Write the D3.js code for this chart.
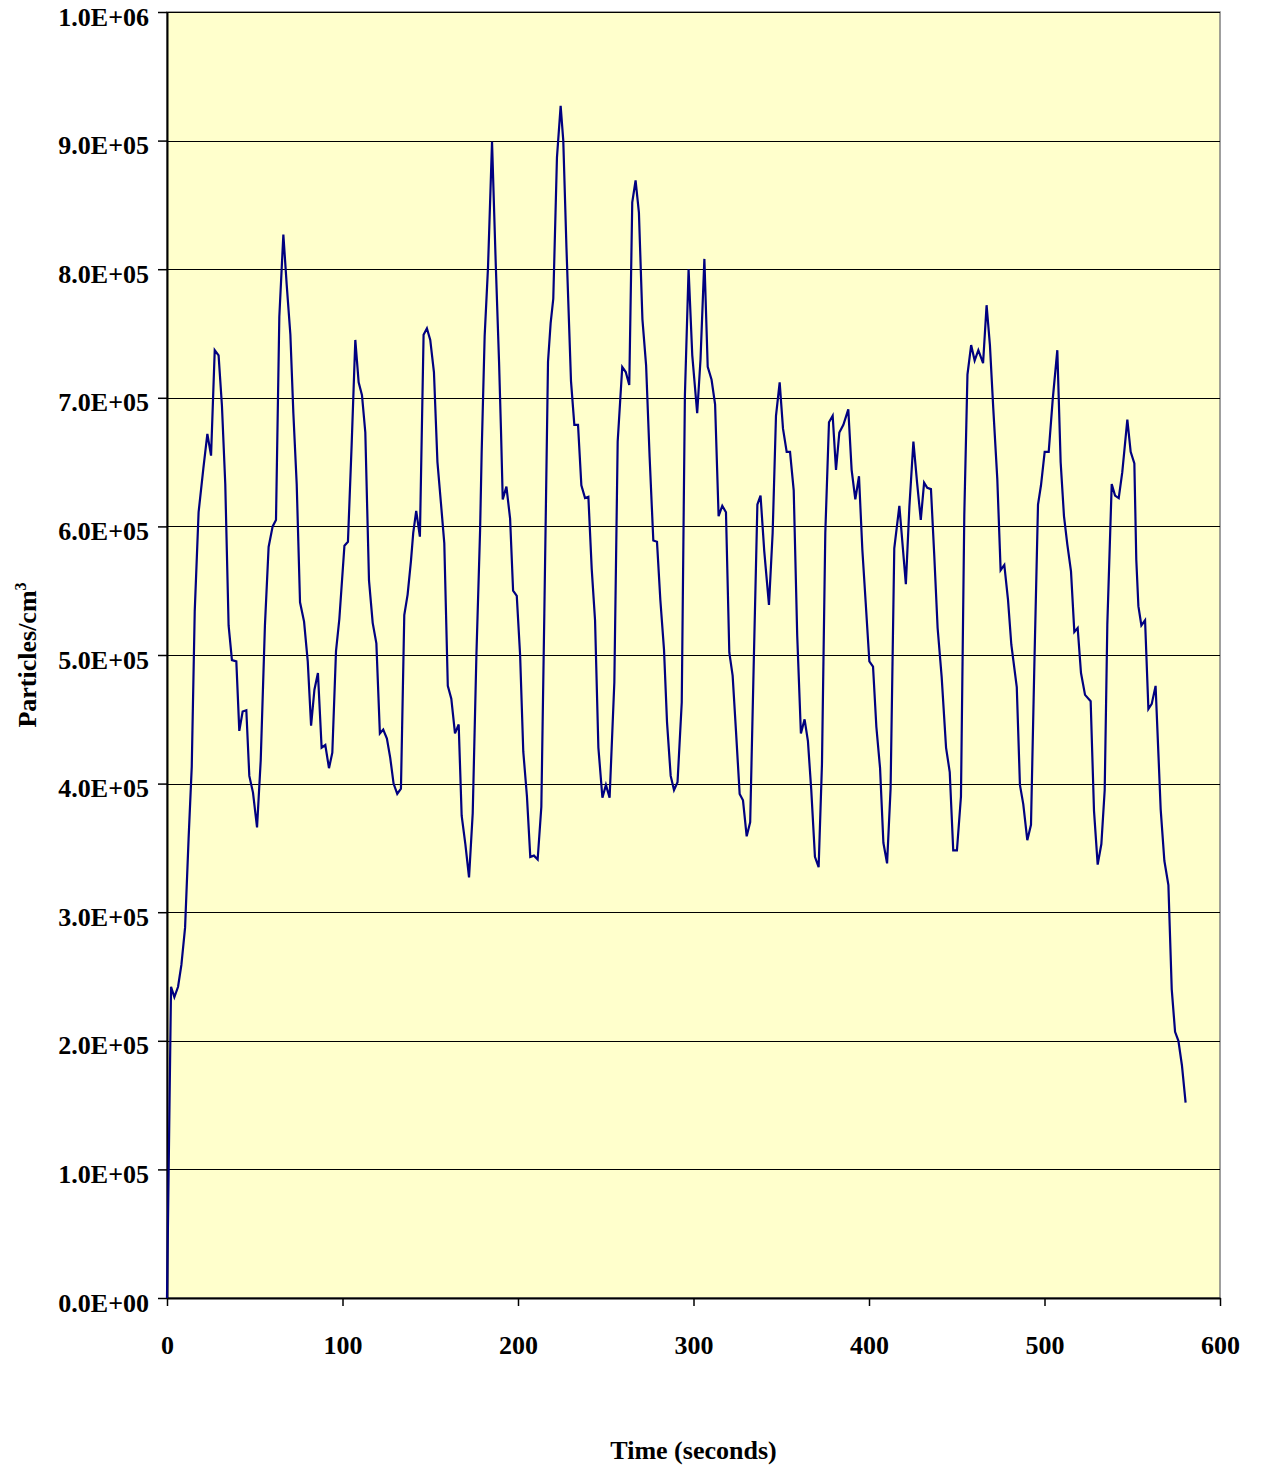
<!DOCTYPE html>
<html>
<head>
<meta charset="utf-8">
<script src="https://cdn.jsdelivr.net/npm/d3@7"></script>
<style>
    body { margin: 0; background: #ffffff; }
    text { font-family: "Liberation Serif", "Times New Roman", serif; font-weight: bold; fill: #000; }
</style>
</head>
<body>
<script>
// time in seconds
var timeSec = [0, 2.3, 4.2, 6.3, 8.2, 10.3, 12.3, 14.1, 15.8, 18.0, 20.7, 23.0, 25.1, 27.2, 29.4, 31.3, 33.2, 35.1, 37.0, 39.5,
    41.2, 43.1, 45.2, 46.9, 49.0, 51.3, 53.4, 55.8, 57.9, 60.2, 62.1, 64.0, 66.3, 68.2, 70.3, 72.0, 73.9, 75.8, 78.1, 80.2,
    82.1, 84.0, 86.0, 88.1, 90.2, 92.3, 94.2, 96.3, 98.2, 101.1, 103.1, 105.2, 107.3, 109.2, 111.1, 113.0, 115.1, 117.2, 119.3, 121.3,
    123.2, 125.3, 127.2, 129.1, 131.2, 133.3, 135.2, 137.1, 139.0, 140.3, 142.0, 144.1, 146.2, 148.1, 150.0, 152.1, 154.1, 156.1, 158.0, 160.0,
    162.0, 164.1, 166.2, 167.9, 170.0, 172.1, 174.2, 176.3, 178.4, 179.3, 181.0, 182.9, 185.2, 187.3, 189.2, 190.3, 191.3, 193.4, 195.5, 197.2,
    199.3, 201.2, 203.0, 205.1, 207.0, 209.1, 211.2, 213.3, 215.0, 217.1, 218.6, 220.1, 222.2, 224.3, 225.8, 227.6, 230.2, 232.1, 234.2, 236.1,
    238.2, 240.1, 242.0, 243.9, 245.8, 248.1, 250.1, 252.2, 254.9, 256.8, 259.4, 261.4, 263.4, 265.1, 267.0, 268.9, 270.9, 273.0, 275.0, 277.1,
    279.2, 281.1, 283.2, 284.9, 287.0, 288.9, 290.9, 293.3, 295.1, 297.2, 299.3, 302.1, 304.0, 306.2, 308.1, 310.3, 312.3, 314.3, 316.4, 318.5,
    320.4, 322.3, 324.2, 326.3, 328.2, 330.3, 332.3, 334.3, 336.4, 338.2, 340.3, 343.0, 345.1, 347.0, 349.1, 351.0, 353.1, 355.0, 357.1, 359.1,
    361.2, 363.3, 365.2, 367.1, 369.2, 371.3, 373.2, 375.1, 377.2, 379.3, 381.2, 383.1, 385.4, 388.2, 390.1, 392.2, 394.3, 396.2, 398.1, 400.2,
    402.3, 404.2, 406.3, 408.2, 410.3, 412.3, 414.4, 417.3, 421.0, 423.0, 425.3, 427.4, 429.5, 431.4, 433.2, 435.3, 437.2, 439.1, 441.4, 443.9,
    446.0, 448.0, 450.1, 452.4, 454.3, 456.1, 458.2, 460.2, 462.3, 465.0, 467.0, 468.9, 470.8, 473.1, 475.0, 477.1, 479.2, 481.1, 484.2, 486.0,
    487.9, 490.2, 492.3, 494.2, 496.3, 498.0, 500.1, 502.4, 504.7, 507.3, 509.2, 511.1, 513.0, 515.1, 517.0, 518.9, 520.8, 523.1, 526.3, 528.2,
    530.3, 532.4, 534.3, 535.8, 538.3, 540.2, 542.3, 544.3, 545.5, 547.2, 549.1, 551.2, 552.3, 553.5, 555.2, 557.3, 559.2, 561.1, 563.3, 565.0,
    566.2, 568.3, 570.6, 572.5, 574.4, 576.3, 578.3, 580.4];

// particles/cm3, in units of 1E+05
var particles = [0, 2.42, 2.34, 2.42, 2.59, 2.88, 3.57, 4.13, 5.34, 6.11, 6.45, 6.72, 6.55, 7.37, 7.33, 6.94, 6.33, 5.23, 4.96, 4.95,
    4.41, 4.56, 4.57, 4.06, 3.93, 3.66, 4.18, 5.23, 5.84, 6.00, 6.05, 7.63, 8.27, 7.88, 7.49, 6.88, 6.33, 5.41, 5.26, 4.95,
    4.45, 4.73, 4.86, 4.28, 4.30, 4.12, 4.24, 5.03, 5.28, 5.85, 5.88, 6.63, 7.45, 7.12, 7.02, 6.73, 5.58, 5.25, 5.09, 4.39,
    4.42, 4.35, 4.20, 4.00, 3.92, 3.96, 5.31, 5.47, 5.73, 5.95, 6.12, 5.92, 7.49, 7.54, 7.45, 7.20, 6.50, 6.18, 5.87, 4.76,
    4.66, 4.39, 4.46, 3.75, 3.53, 3.27, 3.77, 5.00, 5.97, 6.58, 7.48, 8.01, 8.99, 8.05, 7.28, 6.75, 6.21, 6.31, 6.06, 5.50,
    5.46, 5.00, 4.25, 3.90, 3.43, 3.44, 3.41, 3.82, 5.32, 7.28, 7.58, 7.77, 8.87, 9.27, 9.00, 8.17, 7.13, 6.79, 6.79, 6.32,
    6.22, 6.23, 5.67, 5.27, 4.28, 3.89, 3.99, 3.89, 4.79, 6.66, 7.24, 7.20, 7.10, 8.52, 8.69, 8.44, 7.61, 7.25, 6.54, 5.89,
    5.88, 5.43, 5.04, 4.48, 4.06, 3.95, 4.01, 4.63, 7.02, 8.00, 7.33, 6.88, 7.30, 8.08, 7.24, 7.14, 6.95, 6.08, 6.16, 6.11,
    5.02, 4.84, 4.41, 3.92, 3.87, 3.59, 3.70, 4.92, 6.17, 6.24, 5.81, 5.39, 5.95, 6.86, 7.12, 6.76, 6.58, 6.58, 6.28, 5.15,
    4.39, 4.50, 4.33, 3.95, 3.43, 3.35, 4.15, 5.95, 6.81, 6.86, 6.44, 6.73, 6.79, 6.91, 6.44, 6.21, 6.39, 5.82, 5.41, 4.95,
    4.91, 4.44, 4.12, 3.54, 3.38, 3.96, 5.83, 6.16, 5.55, 6.15, 6.66, 6.34, 6.05, 6.34, 6.30, 6.29, 5.77, 5.21, 4.83, 4.28,
    4.09, 3.48, 3.48, 3.90, 6.09, 7.18, 7.41, 7.29, 7.37, 7.27, 7.72, 7.41, 6.92, 6.37, 5.66, 5.70, 5.43, 5.08, 4.75, 3.99,
    3.84, 3.56, 3.68, 4.91, 6.17, 6.32, 6.58, 6.58, 6.99, 7.37, 6.50, 6.08, 5.86, 5.65, 5.18, 5.21, 4.86, 4.69, 4.64, 3.79,
    3.37, 3.53, 3.95, 5.24, 6.33, 6.24, 6.22, 6.42, 6.59, 6.83, 6.58, 6.49, 5.74, 5.38, 5.23, 5.27, 4.58, 4.62, 4.76, 4.20,
    3.80, 3.40, 3.21, 2.40, 2.07, 2.00, 1.81, 1.52];

var xTicks = [0, 100, 200, 300, 400, 500, 600];
var yTicks = [0, 1, 2, 3, 4, 5, 6, 7, 8, 9, 10];
var yTickLabels = ["0.0E+00", "1.0E+05", "2.0E+05", "3.0E+05", "4.0E+05", "5.0E+05",
    "6.0E+05", "7.0E+05", "8.0E+05", "9.0E+05", "1.0E+06"];

var width = 1264,
    height = 1468,
    margin = {top: 12, right: 44, bottom: 170, left: 167};

var w = width - margin.left - margin.right,
    h = height - margin.top - margin.bottom;

var svg = d3.select('body')
    .append('svg')
    .attr('width', width)
    .attr('height', height);

var g = svg.append('g')
    .attr('transform', 'translate(' + margin.left + ',' + margin.top + ')');

var x = d3.scaleLinear().domain([0, 600]).range([0, w]);
var y = d3.scaleLinear().domain([0, 10]).range([h, 0]);

// plot area
g.append('rect')
    .attr('width', w)
    .attr('height', h)
    .attr('fill', '#ffffcc')
    .attr('stroke', '#808080')
    .attr('stroke-width', 1.5);

// gridlines
g.selectAll('line.grid')
    .data(yTicks.slice(1))
    .enter()
    .append('line')
    .attr('class', 'grid')
    .attr('x1', 0)
    .attr('x2', w)
    .attr('y1', function (d) { return Math.round(y(d)) + 0.5; })
    .attr('y2', function (d) { return Math.round(y(d)) + 0.5; })
    .attr('stroke', '#000')
    .attr('stroke-width', 1);

var yAxis = g.append('g')
    .call(d3.axisLeft(y)
        .tickValues(yTicks)
        .tickFormat(function (d, i) { return yTickLabels[i]; })
        .tickSize(9)
        .tickSizeOuter(0)
        .tickPadding(9));

var xAxis = g.append('g')
    .attr('transform', 'translate(0,' + h + ')')
    .call(d3.axisBottom(x)
        .tickValues(xTicks)
        .tickSize(8)
        .tickSizeOuter(0)
        .tickPadding(30));

[yAxis, xAxis].forEach(function (ax) {
    ax.selectAll('path').attr('stroke', '#000').attr('stroke-width', 2);
    ax.selectAll('line').attr('stroke', '#000').attr('stroke-width', 1.5);
    ax.selectAll('text')
        .style('font-family', '"Liberation Serif", "Times New Roman", serif')
        .style('font-weight', 'bold')
        .style('font-size', '26px');
});
yAxis.selectAll('text').attr('dy', '0.5em');

// data line
var pts = timeSec.map(function (t, i) { return [t, particles[i]]; });

var line = d3.line()
    .x(function (d) { return x(d[0]); })
    .y(function (d) { return y(d[1]); });

g.append('path')
    .datum(pts)
    .attr('d', line)
    .attr('fill', 'none')
    .attr('stroke', '#000080')
    .attr('stroke-width', 2.2)
    .attr('stroke-linejoin', 'miter');

// axis titles
svg.append('text')
    .attr('x', margin.left + w / 2)
    .attr('y', 1459)
    .attr('text-anchor', 'middle')
    .style('font-size', '26px')
    .text('Time (seconds)');

var yt = svg.append('text')
    .attr('transform', 'translate(36,655) rotate(-90)')
    .attr('text-anchor', 'middle')
    .style('font-size', '26px');
yt.append('tspan').text('Particles/cm');
yt.append('tspan')
    .attr('dy', '-0.65em')
    .style('font-size', '16px')
    .text('3');
</script>
</body>
</html>
